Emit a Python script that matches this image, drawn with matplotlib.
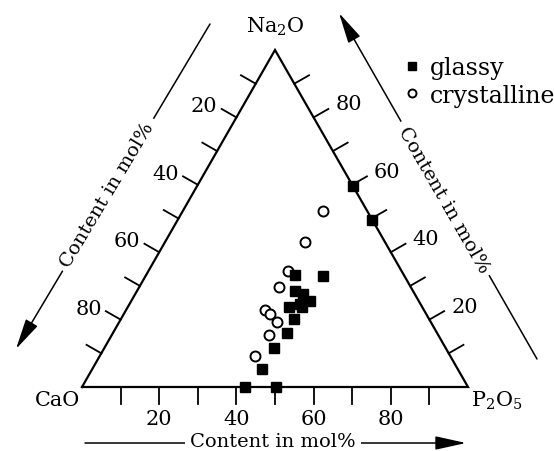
import numpy as np
import matplotlib
matplotlib.use("Agg")
import matplotlib.pyplot as plt
from matplotlib.patches import FancyArrowPatch

plt.rcParams['font.family'] = ['DejaVu Serif']
plt.rcParams['mathtext.fontset'] = 'dejavuserif'

# ---- data (mol%) ----
glassy_p2o5 = [38.6, 46.0, 40.9, 43.5, 46.3, 44.2, 41.9, 45.1, 44.9, 45.0, 44.0, 43.9, 42.2, 50.3, 40.3, 50.4]
glassy_na2o = [33.2, 32.9, 28.6, 27.6, 25.6, 24.6, 23.7, 23.7, 20.2, 16.0, 11.6, 5.3, 0.0, 0.0, 59.7, 49.6]
glassy_cao = [28.2, 21.1, 30.5, 28.9, 28.1, 31.2, 34.4, 31.2, 34.9, 39.0, 44.4, 50.8, 57.8, 49.7, 0.0, 0.0]

cryst_p2o5 = [36.2, 36.2, 36.0, 36.2, 36.0, 37.9, 40.9, 40.7, 40.3]
cryst_na2o = [52.3, 43.1, 34.5, 29.6, 22.8, 21.7, 19.4, 15.4, 9.1]
cryst_cao = [11.5, 20.7, 29.5, 34.2, 41.2, 40.4, 39.7, 43.9, 50.6]

tick_values = [10, 20, 30, 40, 50, 60, 70, 80, 90]
tick_labels = {20: "20", 40: "40", 60: "60", 80: "80"}
axis_title = "Content in mol%"

# ---- layout (pixel space) ----
W, H = 554, 452
A = np.array([82.0, 388.0])   # CaO
B = np.array([468.0, 388.0])  # P2O5
C = np.array([275.0, 51.0])   # Na2O


def tern(p, n, c):
    p = np.asarray(p, float); n = np.asarray(n, float); c = np.asarray(c, float)
    s = p + n + c
    x = A[0] + (B[0] - A[0]) * p / s + (C[0] - A[0]) * n / s
    y = A[1] + (B[1] - A[1]) * p / s + (C[1] - A[1]) * n / s
    return x, y


fig = plt.figure(figsize=(W / 100, H / 100), dpi=100)
ax = fig.add_axes([0, 0, 1, 1])
ax.set_xlim(0, W)
ax.set_ylim(H, 0)
ax.axis('off')

# triangle
tri = np.array([A, B, C, A])
ax.plot(tri[:, 0], tri[:, 1], color='black', lw=1.6, solid_joinstyle='miter', zorder=2)

tick_len = 17
fs_tick = 15
fs_title = 14
# bottom axis (P2O5)
for v in tick_values:
    x, y = tern(v, 0, 100 - v)
    ax.plot([x, x], [y, y + tick_len], color='black', lw=1.3)
    if v in tick_labels:
        ax.text(x, y + tick_len + 5, tick_labels[v], ha='center', va='top', fontsize=fs_tick)

# left axis (CaO content): normal outward (up-left)
dl = (A - C) / np.linalg.norm(A - C)
nl = np.array([dl[1], -dl[0]])
if nl[0] > 0:
    nl = -nl
for v in tick_values:
    x, y = tern(0, 100 - v, v)
    ex, ey = x + nl[0] * tick_len, y + nl[1] * tick_len
    ax.plot([x, ex], [y, ey], color='black', lw=1.3)
    if v in tick_labels:
        ax.text(ex - 4, ey - 3, tick_labels[v], ha='right', va='center', fontsize=fs_tick)

# right axis (Na2O content): normal outward (up-right)
dr = (C - B) / np.linalg.norm(C - B)
nr = np.array([-dr[1], dr[0]])
if nr[0] < 0:
    nr = -nr
for v in tick_values:
    x, y = tern(100 - v, v, 0)
    ex, ey = x + nr[0] * tick_len, y + nr[1] * tick_len
    ax.plot([x, ex], [y, ey], color='black', lw=1.3)
    if v in tick_labels:
        ax.text(ex + 7, ey - 5, tick_labels[v], ha='left', va='center', fontsize=fs_tick)

# vertex labels
fs_v = 15
ax.text(275, 27, 'Na$_2$O', ha='center', va='center', fontsize=fs_v)
ax.text(80, 401, 'CaO', ha='right', va='center', fontsize=fs_v)
ax.text(471, 401, 'P$_2$O$_5$', ha='left', va='center', fontsize=fs_v)


def arrow_axis(p0, p1, tc, rot):
    arr = FancyArrowPatch(p0, p1, arrowstyle='-|>,head_length=1.9,head_width=0.42',
                          mutation_scale=10, lw=1.1, color='black',
                          shrinkA=0, shrinkB=0, zorder=1)
    ax.add_patch(arr)
    ax.text(tc[0], tc[1], axis_title, ha='center', va='center', rotation=rot,
            rotation_mode='anchor', fontsize=fs_title, zorder=3,
            bbox=dict(fc='white', ec='none', pad=4))


arrow_axis((85, 444), (466, 444), (273, 442), 0)
arrow_axis((210, 25), (16, 350), (107, 195), 59.1)
arrow_axis((537, 360), (339, 14), (444, 200), -60.1)

# data
gx, gy = tern(glassy_p2o5, glassy_na2o, glassy_cao)
cx, cy = tern(cryst_p2o5, cryst_na2o, cryst_cao)
ax.plot(gx, gy, linestyle='none', marker='s', ms=7.8, mfc='black', mec='black',
        label='glassy', zorder=5)
ax.plot(cx, cy, linestyle='none', marker='o', ms=7.2, mfc='white', mec='black',
        mew=1.4, label='crystalline', zorder=4)

leg = ax.legend(loc='upper left', bbox_to_anchor=(405 / W, 1 - 57 / H),
                bbox_transform=fig.transFigure, frameon=False, fontsize=17,
                handlelength=0.6, handletextpad=0.45, borderpad=0,
                labelspacing=0.2, markerscale=0.8, borderaxespad=0)

fig.savefig('out.png', dpi=100)
